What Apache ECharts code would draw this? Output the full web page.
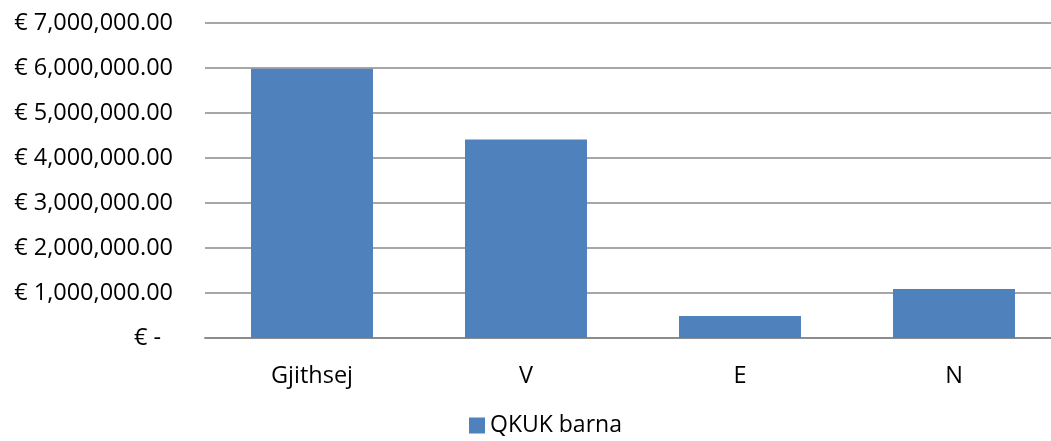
<!DOCTYPE html>
<html style="height: 100%; overflow: hidden">
<head>
<meta charset="utf-8">
<script src="https://cdn.jsdelivr.net/npm/echarts@6/dist/echarts.min.js"></script>
</head>
<body style="height: 100%; margin: 0; background: #fff; overflow: hidden">
<!-- plot area runs past the right edge in the original, so the canvas is a bit wider than the window -->
<div id="container" style="width: 1062px; height: 441px"></div>
<script type="text/javascript">
// chart data
var categories = ['Gjithsej', 'V', 'E', 'N'];
var seriesName = 'QKUK barna';
var values = [5985000, 4410000, 490000, 1090000];
var yTicks = [0, 1000000, 2000000, 3000000, 4000000, 5000000, 6000000, 7000000];

var fontName = '"Open Sans", "Noto Sans", sans-serif';

function euro(v) {
    if (v === 0) return '{z|€ -}';
    var s = v.toFixed(2).replace(/\B(?=(\d{3})+(?!\d))/g, ',');
    return '€ ' + s;
}

var myChart = echarts.init(document.getElementById('container'));
var option = {
    animation: false,
    textStyle: { fontFamily: fontName },
    grid: {
        left: 205,
        top: 23,
        width: 856,
        height: 315,
        containLabel: false
    },
    legend: {
        data: [seriesName],
        left: 469,
        top: 414,
        padding: 0,
        itemWidth: 16,
        itemHeight: 16,
        itemGap: 6,
        icon: 'rect',
        textStyle: { fontSize: 23, color: '#000', fontFamily: fontName }
    },
    xAxis: {
        type: 'category',
        data: categories,
        axisTick: { show: false },
        axisLine: { lineStyle: { color: '#8c8c8c', width: 2 } },
        axisLabel: { color: '#000', fontSize: 23.5, margin: 26, fontFamily: fontName }
    },
    yAxis: {
        type: 'value',
        min: yTicks[0],
        max: yTicks[yTicks.length - 1],
        interval: 1000000,
        axisLine: { show: false },
        axisTick: { show: false },
        splitLine: { lineStyle: { color: '#a6a6a6', width: 2 } },
        axisLabel: {
            color: '#000',
            fontSize: 23.5,
            margin: 32,
            fontFamily: fontName,
            formatter: euro,
            rich: { z: { fontSize: 23.5, color: '#000', fontFamily: fontName, padding: [0, 12, 0, 0] } }
        }
    },
    series: [{
        name: seriesName,
        type: 'bar',
        data: values,
        barWidth: '57%',
        itemStyle: { color: '#4f81bd' }
    }]
};
myChart.setOption(option);
</script>
</body>
</html>
